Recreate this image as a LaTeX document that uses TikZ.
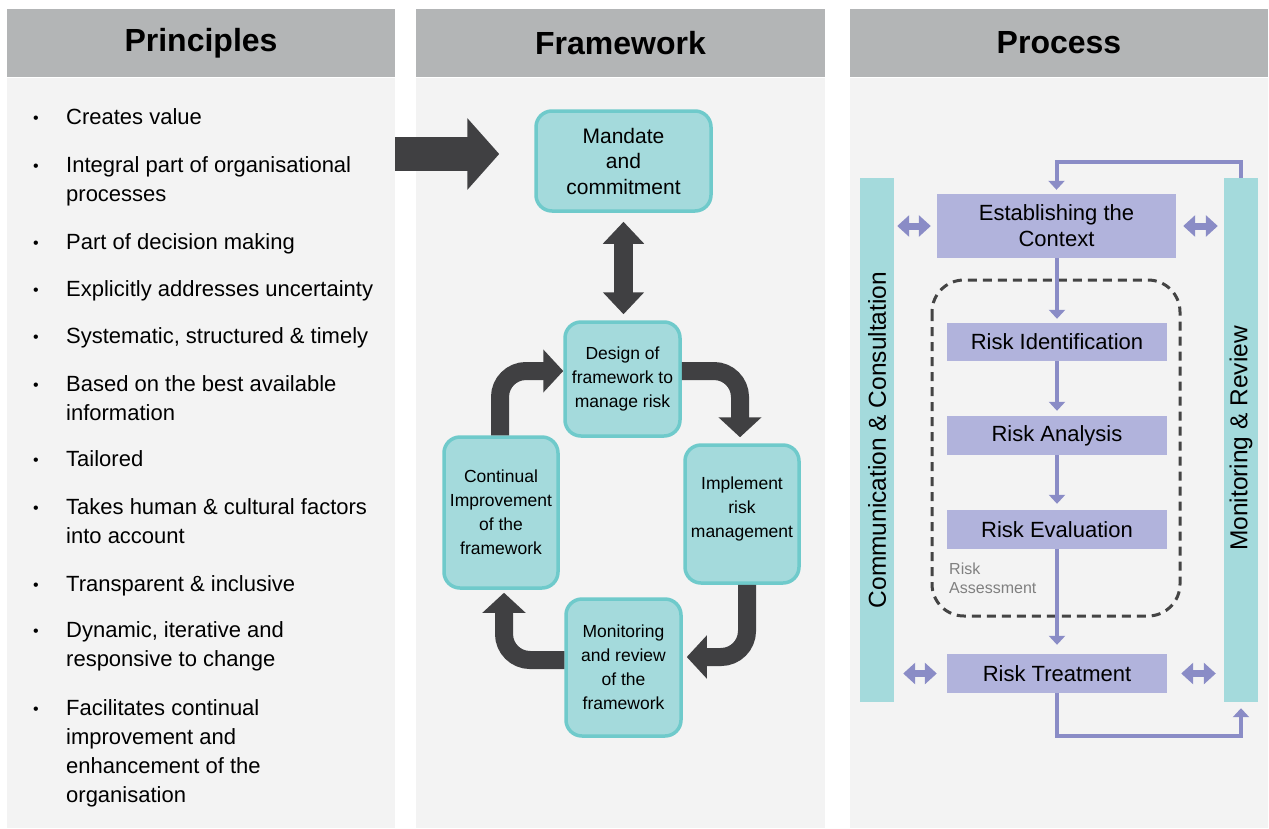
\documentclass[tikz,border=0pt]{standalone}
\usepackage{fontspec}
\setmainfont{Liberation Sans}
\usetikzlibrary{arrows.meta}
\definecolor{panelbg}{HTML}{F3F3F3}
\definecolor{headbg}{HTML}{B3B5B6}
\definecolor{darkarr}{HTML}{404042}
\definecolor{tealfill}{HTML}{A4DADC}
\definecolor{tealborder}{HTML}{6FCACB}
\definecolor{lav}{HTML}{B1B3DC}
\definecolor{purp}{HTML}{8A8CC6}
\definecolor{dashgray}{HTML}{444444}
\definecolor{ragray}{HTML}{808080}
\newcommand\myfs[2]{\fontsize{#1}{#2}\selectfont}
\begin{document}
\begin{tikzpicture}[x=1pt,y=-1pt,
  header/.style={fill=headbg, inner sep=0, font=\myfs{32}{36}\bfseries},
  item/.style={anchor=north west, inner sep=0, align=left, font=\myfs{22}{29}},
  bullet/.style={anchor=base, inner sep=0, font=\myfs{16}{20}},
  fbox/.style={draw=tealborder, line width=3.5pt, fill=tealfill, rounded corners=16pt, align=center, inner sep=0, text=black},
  fa/.style={draw=darkarr, line width=18pt, rounded corners=26pt, -{Triangle[length=20pt,width=42pt]}},
  bar/.style={fill=tealfill, inner sep=0, minimum width=34pt, minimum height=524pt},
  pbox/.style={fill=lav, inner sep=0, minimum width=220pt, align=center, font=\myfs{22}{26}},
  pa/.style={draw=purp, line width=4pt, -{Triangle[length=9pt,width=16pt]}},
  pd/.style={draw=purp, line width=7pt, {Triangle[length=12pt,width=21pt]}-{Triangle[length=12pt,width=21pt]}}
]
\useasboundingbox (0,0) rectangle (1269,828);
\fill[white] (0,0) rectangle (1269,828);
% panels
\fill[panelbg] (7,78) rectangle (395,828);
\fill[panelbg] (416,78) rectangle (825,828);
\fill[panelbg] (850,78) rectangle (1268,828);
\node[header, minimum width=388pt, minimum height=68pt] (h1) at (201,43) {Principles};
\node[header, minimum width=409pt, minimum height=68pt] (h2) at (620.5,43) {Framework};
\node[header, minimum width=418pt, minimum height=68pt] (h3) at (1059,43) {Process};

% principles list
\foreach \yb/\tx [count=\i] in {
  124/{Creates value},
  172/{Integral part of organisational\\processes},
  249/{Part of decision making},
  296/{Explicitly addresses uncertainty},
  343/{Systematic, structured \& timely},
  391/{Based on the best available\\information},
  466/{Tailored},
  514/{Takes human \& cultural factors\\into account},
  591/{Transparent \& inclusive},
  637/{Dynamic, iterative and\\responsive to change},
  715/{Facilitates continual\\improvement and\\enhancement of the\\organisation}}{
  \node[bullet] (bu\i) at (36,\yb-1) {•};
  \node[item] (it\i) at (66,\yb-20.3) {\strut\tx};
}

% framework boxes
\node[fbox, minimum width=175pt, minimum height=100pt, font=\myfs{21}{25.5}] (mandate) at (623.5,161) {Mandate\\and\\commitment};
\node[fbox, minimum width=115pt, minimum height=114pt, font=\myfs{17.5}{24}] (design) at (622.5,379) {Design of\\framework to\\manage risk};
\node[fbox, minimum width=114pt, minimum height=138pt, font=\myfs{17.5}{24}] (impl) at (742,514) {Implement\\risk\\management\\[-10pt]};
\node[fbox, minimum width=114pt, minimum height=151pt, font=\myfs{17.5}{24}] (cont) at (501,512.5) {Continual\\Improvement\\of the\\framework};
\node[fbox, minimum width=115pt, minimum height=137pt, font=\myfs{17.5}{24}] (mon) at (623.5,667.5) {Monitoring\\and review\\of the\\framework};

% big arrow from principles
\coordinate (pstart) at (395,154);
\draw[draw=darkarr, line width=34pt, -{Triangle[length=32pt,width=70pt]}, shorten >=35pt] (pstart) -- (pstart -| mandate.west);

% mandate <-> design
\draw[draw=darkarr, line width=19pt, {Triangle[length=22pt,width=40pt]}-{Triangle[length=22pt,width=40pt]}, shorten <=9pt, shorten >=6pt] (mandate.south) -- (mandate.south |- design.north);

% cycle arrows
\draw[fa] (500,0 |- cont.north) -- (500,371) -- (design.west |- 0,371);
\draw[fa, shorten >=6pt] (design.east |- 0,371) -- (740,371) -- (740,0 |- impl.north);
\draw[fa, shorten >=4pt] (747,0 |- impl.south) -- (747,657) -- (mon.east |- 0,657);
\draw[fa, shorten >=3pt] (mon.west |- 0,660) -- (504,660) -- (504,0 |- cont.south);

% process
\node[bar] (cc) at (877,440) {};
\node[rotate=90, inner sep=0, font=\myfs{24.5}{28}] (cctext) at (cc.center) {Communication \& Consultation};
\node[bar] (mr) at (1241,440) {};
\node[rotate=90, inner sep=0, font=\myfs{24.5}{28}] (mrtext) at (1241,438.5) {Monitoring \& Review};

\draw[draw=dashgray, line width=3pt, dash pattern=on 9pt off 6pt, rounded corners=32pt] (932,280) rectangle (1180,616);

\node[pbox, minimum width=239pt, minimum height=64pt] (ctx) at (1056.5,226) {Establishing the\\Context};
\node[pbox, minimum height=38pt] (ri) at (1057,342) {Risk Identification};
\node[pbox, minimum height=39pt] (ra) at (1057,435.5) {Risk Analysis};
\node[pbox, minimum height=39pt] (re) at (1057,529.5) {Risk Evaluation};
\node[pbox, minimum height=39pt] (rt) at (1057,673.5) {Risk Treatment};
\node[anchor=west, align=left, inner sep=0, text=ragray, font=\myfs{16}{19}] (rass) at (949,578) {Risk\\Assessment};

\draw[pa, shorten >=4pt] (ri.north |- ctx.south) -- (ri.north);
\draw[pa, shorten >=5pt] (ri.south) -- (ra.north);
\draw[pa, shorten >=6pt] (ra.south) -- (re.north);
\draw[pa, shorten >=9pt] (re.south) -- (rt.north);
\draw[pa, shorten >=4pt] (mr.north) -- ++(0,-16) -| (ctx.north);
\draw[pa, shorten >=6pt] (rt.south) -- ++(0,43) -| (mr.south);

\draw[pd, shorten <=3pt, shorten >=6pt] (cc.east |- ctx.west) -- (ctx.west);
\draw[pd, shorten <=7pt, shorten >=6pt] (ctx.east) -- (mr.west |- ctx.east);
\draw[pd, shorten <=9pt, shorten >=10pt] (cc.east |- rt.west) -- (rt.west);
\draw[pd, shorten <=14pt, shorten >=8pt] (rt.east) -- (mr.west |- rt.east);
\end{tikzpicture}
\end{document}
